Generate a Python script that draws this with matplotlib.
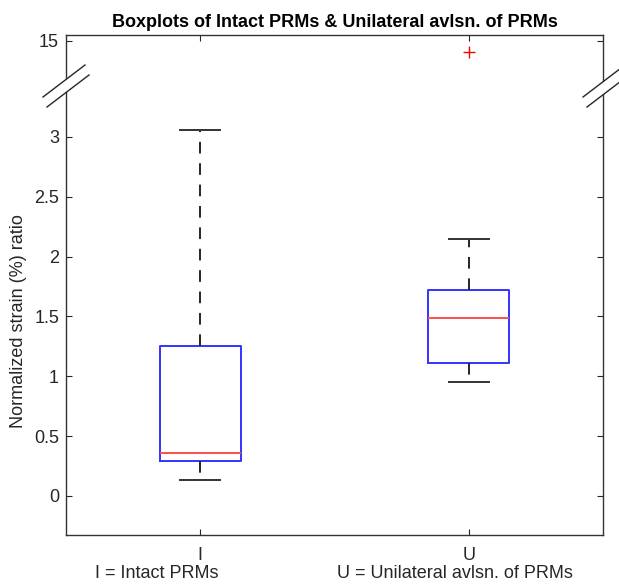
import numpy as np
import matplotlib.pyplot as plt
from matplotlib.lines import Line2D
from matplotlib.patches import Polygon

plt.rcParams['font.family'] = ['Liberation Sans', 'DejaVu Sans']

# box statistics
groups = ['I', 'U']
whislo = [0.13, 0.95]
q1 = [0.29, 1.11]
med = [0.36, 1.49]
q3 = [1.25, 1.72]
whishi = [3.06, 2.15]
fliers = [[], [14.2]]

ytick_vals = [0, 0.5, 1, 1.5, 2, 2.5, 3, 15]
ytick_labels = ['0', '0.5', '1', '1.5', '2', '2.5', '3', '15']

# broken y axis: values above the break are squeezed into the top band
BRK = 3.43
def squash(y):
    y = np.asarray(y, dtype=float)
    return np.where(y > BRK, 3.80 - (15 - y) * 0.11, y)

stats = []
for i in range(len(groups)):
    stats.append(dict(label=groups[i], whislo=whislo[i], q1=q1[i], med=med[i],
                      q3=q3[i], whishi=whishi[i], fliers=squash(fliers[i])))

fig = plt.figure(figsize=(6.19, 5.87), dpi=100)
ax = fig.add_axes([66/619, 52/587, 537/619, 500/587])

ax.bxp(stats, positions=[1, 2], widths=0.3,
       boxprops=dict(color=(0.2, 0.2, 1.0), lw=1.4),
       medianprops=dict(color=(1.0, 0.3, 0.3), lw=1.4),
       whiskerprops=dict(color='0.15', lw=1.4, linestyle=(0, (6, 5))),
       capprops=dict(color='0.2', lw=1.4),
       capwidths=0.15,
       flierprops=dict(marker='+', markeredgecolor='r', markersize=8, markeredgewidth=1.0))

ax.set_xlim(0.5, 2.5)
ax.set_ylim(-0.326, 3.85)
ax.set_yticks(squash(ytick_vals))
ax.set_yticklabels(ytick_labels)
ax.set_xticks([1, 2])
ax.set_xticklabels(groups)
ax.tick_params(direction='in', length=4, width=0.8, colors='0.15', labelsize=13,
               top=True, right=True)
ax.tick_params(axis='x', pad=9)
ax.tick_params(axis='y', pad=5)
for s in ax.spines.values():
    s.set_color('0.2')
    s.set_linewidth(1.0)

ax.set_title('Boxplots of Intact PRMs & Unilateral avlsn. of PRMs',
             fontsize=13, fontweight='bold', pad=6)
fig.text(19/619, 1 - 321/587, 'Normalized strain (%) ratio', rotation=90,
         ha='center', va='center', fontsize=13, color='0.15')
fig.text(157/619, 1 - 574/587, 'I = Intact PRMs', ha='center', va='center',
         fontsize=13, color='0.15')
fig.text(455/619, 1 - 574/587, 'U = Unilateral avlsn. of PRMs', ha='center', va='center',
         fontsize=13, color='0.15')

# break marks on both sides (pixel coords -> figure coords)
def px(x, y):
    return x / 619, 1 - y / 587

for x0 in [43, 583]:
    a1, b1 = px(x0, 97), px(x0 + 42, 65)
    a2, b2 = px(x0 + 4, 107), px(x0 + 46, 75)
    fig.patches.append(Polygon([a1, b1, b2, a2], closed=True, facecolor='white',
                               edgecolor='none', transform=fig.transFigure, zorder=5))
    fig.lines.append(Line2D([a1[0], b1[0]], [a1[1], b1[1]], color='0.15', lw=1.0,
                            transform=fig.transFigure, zorder=6))
    fig.lines.append(Line2D([a2[0], b2[0]], [a2[1], b2[1]], color='0.15', lw=1.0,
                            transform=fig.transFigure, zorder=6))

fig.savefig('out.png', dpi=100)
